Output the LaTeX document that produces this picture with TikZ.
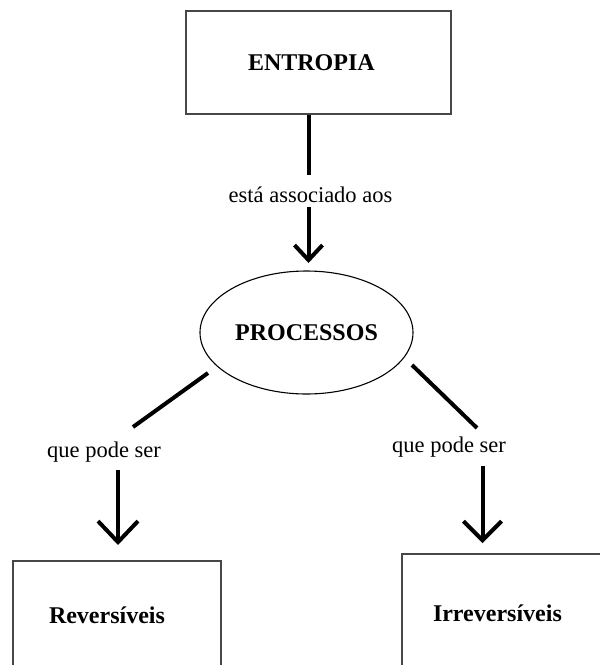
\documentclass[tikz,border=0pt]{standalone}
\usepackage{fontspec}
\setmainfont{Liberation Serif}
\usetikzlibrary{arrows.meta,shapes.geometric}
\definecolor{boxgray}{HTML}{474747}
\begin{document}
\begin{tikzpicture}[x=1pt,y=-1pt,
  boxnode/.style={draw=boxgray, line width=2pt, rectangle, inner ysep=0pt, align=left,
    text height=16pt, text depth=0pt, font=\fontsize{24}{28}\selectfont\bfseries},
  ovalnode/.style={draw=black, line width=1.1pt, ellipse, inner sep=0pt,
    minimum width=213pt, minimum height=123pt, font=\fontsize{24}{28}\selectfont\bfseries},
  lbl/.style={inner sep=0pt, anchor=base, font=\fontsize{22.5}{27}\selectfont},
  conn/.style={line width=4pt, black},
]
\useasboundingbox (0,0) rectangle (600,665);

% nodes
\node[boxnode, inner xsep=62pt, text width=141pt, minimum height=103pt] (entropia) at (318.5,62.5) {ENTROPIA};
\node[ovalnode] (processos) at (306.5,332.5) {PROCESSOS};
\node[boxnode, inner xsep=36pt, text width=136pt, minimum height=108pt] (rev) at (117,615) {Reversíveis};
\node[boxnode, inner xsep=31pt, text width=156pt, minimum height=118pt] (irr) at (511,613) {Irreversíveis};

\node[lbl] (l1) at (310.5,202) {está associado aos};
\node[lbl] (l2) at (104,457) {que pode ser};
\node[lbl] (l3) at (449,452) {que pode ser};

% connector end points
\coordinate (a1) at (308.5,175);
\coordinate (a2) at (308.5,207);
\coordinate (a3) at (308.5,263);
\coordinate (b0) at (208,373);
\coordinate (b1) at (133,427);
\coordinate (b2) at (118,470);
\coordinate (b3) at (118,545);
\coordinate (c0) at (412,365);
\coordinate (c1) at (477,428);
\coordinate (c2) at (482.5,466);
\coordinate (c3) at (482.5,543);

% connectors
\draw[conn] (entropia.south -| a1) -- (a1);
\draw[conn, -{Straight Barb[length=15pt,width=28pt]}] (a2) -- (a3);
\draw[conn] (b0) -- (b1);
\draw[conn, -{Straight Barb[length=21pt,width=40pt]}] (b2) -- (b3);
\draw[conn] (c0) -- (c1);
\draw[conn, -{Straight Barb[length=19pt,width=38pt]}] (c2) -- (c3);
\end{tikzpicture}
\end{document}
